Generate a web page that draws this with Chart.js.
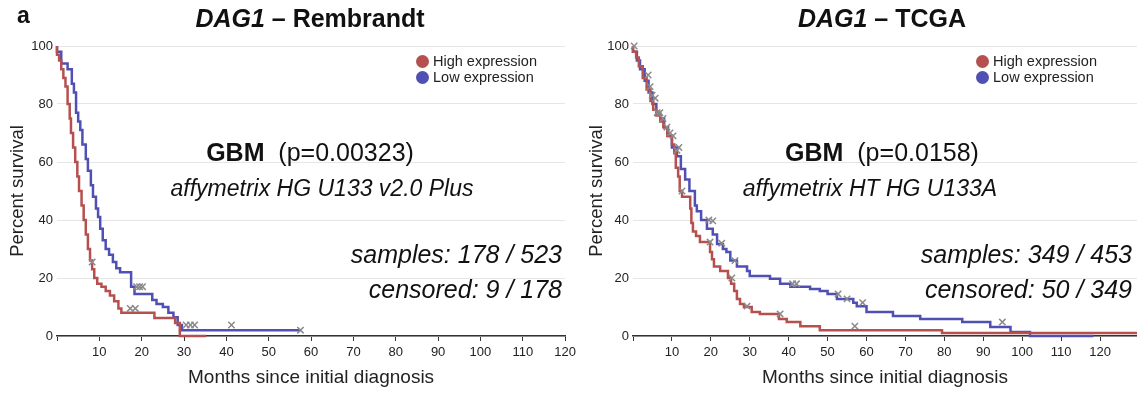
<!DOCTYPE html>
<html>
<head>
<meta charset="utf-8">
<script src="https://cdn.jsdelivr.net/npm/chart.js@4"></script>
<style>
body{margin:0;background:#fff;font-family:"Liberation Sans",Arial,sans-serif;color:#111}
#wrap{position:relative;width:1137px;height:393px;overflow:hidden}
canvas{position:absolute;top:0}
.t{position:absolute;white-space:nowrap;line-height:1}
.c{transform:translateX(-50%)}
.lg{position:absolute;font-size:14.5px;line-height:16px;color:#222}
.dot{display:inline-block;width:13px;height:13px;border-radius:50%;vertical-align:-2px;margin-right:4px}
</style>
</head>
<body>
<div id="wrap">
<canvas id="rem" width="580" height="393" style="left:0"></canvas>
<canvas id="tcga" width="567" height="393" style="left:576px"></canvas>

<div class="t" style="left:17px;top:4px;font-size:23px;font-weight:bold">a</div>
<div class="t c" style="left:310px;top:6px;font-size:25px;font-weight:bold"><i>DAG1</i> – Rembrandt</div>
<div class="t c" style="left:882px;top:6px;font-size:25px;font-weight:bold"><i>DAG1</i> – TCGA</div>

<div class="t c" style="left:310px;top:140px;font-size:25px"><b>GBM</b>&nbsp; (p=0.00323)</div>
<div class="t c" style="left:322px;top:177px;font-size:23px;font-style:italic">affymetrix HG U133 v2.0 Plus</div>
<div class="t" style="right:575px;top:242px;font-size:25px;font-style:italic">samples: 178 / 523</div>
<div class="t" style="right:575px;top:277px;font-size:25px;font-style:italic">censored: 9 / 178</div>

<div class="t c" style="left:882px;top:140px;font-size:25px"><b>GBM</b>&nbsp; (p=0.0158)</div>
<div class="t c" style="left:870px;top:177px;font-size:23px;font-style:italic">affymetrix HT HG U133A</div>
<div class="t" style="right:5px;top:242px;font-size:25px;font-style:italic">samples: 349 / 453</div>
<div class="t" style="right:5px;top:277px;font-size:25px;font-style:italic">censored: 50 / 349</div>

<div class="lg" style="left:416px;top:53px"><span class="dot" style="background:#b5504f"></span>High expression<br><span class="dot" style="background:#5050b4"></span>Low expression</div>
<div class="lg" style="left:976px;top:53px"><span class="dot" style="background:#b5504f"></span>High expression<br><span class="dot" style="background:#5050b4"></span>Low expression</div>
</div>

<script>
// ---- Rembrandt (months, percent survival) ----
const remHighT = [0, 0.5, 1.0, 1.5, 2.0, 2.5, 3.0, 3.3, 3.8, 4.3, 4.8, 5.2, 5.8, 6.3, 6.8, 7.3, 7.8, 8.3, 8.8, 9.5, 10.5, 11.5, 12.5, 13.5, 14.5, 15.2, 23.0, 27.9, 29.0, 35.2];
const remHighS = [100, 97, 95, 92, 89, 86, 80, 75, 70, 65, 60, 55, 50, 45, 40, 35, 30, 26, 23, 20, 18, 17, 15.5, 14, 12, 9.5, 8, 6.2, 4.5, 0];
const remLowT = [0, 1.0, 2.5, 3.5, 4.0, 4.5, 5.0, 5.5, 6.0, 6.8, 7.3, 8.0, 8.5, 9.2, 9.7, 10.2, 10.8, 11.5, 12.3, 13.2, 14.0, 14.9, 17.5, 18.3, 22.5, 23.5, 25.0, 26.3, 27.5, 28.5, 29.5, 42.0, 57.5];
const remLowS = [100, 98, 94, 92, 87, 84, 77, 74, 71, 66, 61, 57, 52, 48, 44, 41, 37, 33, 30, 28, 25.5, 23.4, 22, 17, 14.5, 12.4, 11, 10, 8, 6.5, 3.8, 2, 2];
const remCensHighT = [8.3, 17.3, 18.5];
const remCensHighS = [25.5, 9.5, 9.5];
const remCensLowT = [18.8, 19.5, 20.2, 30.5, 31.5, 32.5, 41.2, 57.5];
const remCensLowS = [17, 17, 17, 3.8, 3.8, 3.8, 3.8, 2];

// ---- TCGA ----
const tcgaHighT = [0, 0.8, 1.5, 2.5, 3.5, 4.5, 5.2, 6.0, 7.0, 7.8, 8.8, 10.0, 10.6, 11.0, 11.6, 12.0, 12.6, 14.7, 15.0, 15.4, 16.2, 17.2, 19.8, 20.3, 20.8, 22.4, 24.4, 25.2, 26.0, 26.7, 27.5, 28.5, 30.5, 32.6, 37.5, 39.5, 43.0, 48.0, 79.4, 92.5, 129.5];
const tcgaHighS = [100, 98, 96, 93, 89, 85, 81, 78, 76, 74, 72, 69, 66, 63, 58, 55, 50, 48, 44, 39, 36, 34.5, 32.4, 29, 26.5, 24, 22.4, 20, 18, 15.5, 12.8, 11, 10, 8.3, 7.6, 5.9, 4.8, 3.4, 2, 1, 1];
const tcgaLowT = [0, 1.0, 1.8, 3.0, 4.0, 5.0, 6.0, 7.0, 8.0, 9.0, 10.0, 11.3, 12.3, 13.4, 14.5, 15.9, 16.4, 17.5, 19.0, 20.5, 21.6, 23.1, 24.0, 25.0, 26.7, 29.3, 30.0, 35.2, 37.8, 40.4, 45.5, 48.0, 50.0, 52.4, 56.6, 57.5, 60.0, 66.8, 73.8, 84.6, 91.8, 97.0, 102.0, 118.3];
const tcgaLowS = [100, 98, 95, 92, 88, 84, 80, 77, 75, 72, 69, 65, 62, 57.6, 54, 50, 45, 43, 40, 37, 35, 31.7, 30, 29, 26, 24, 22.4, 20.7, 19.7, 18, 17, 16.2, 15.5, 14.5, 12.8, 11.5, 10.3, 8.3, 6.9, 5.9, 4.8, 3.1, 1.4, 0];
const tcgaCensHighT = [0.3, 3.9, 4.9, 6.2, 7.7, 9.5, 11.3, 12.6, 19.8, 25.4, 29.3, 37.8, 57.0];
const tcgaCensHighS = [100, 90, 83, 77, 75, 70, 64, 50, 32.4, 20, 10.3, 7.6, 3.4];
const tcgaCensLowT = [4.4, 5.7, 6.9, 8.7, 10.3, 11.8, 19.5, 20.5, 22.8, 26.2, 41.0, 42.0, 52.7, 55.0, 59.0, 94.9];
const tcgaCensLowS = [86, 82, 77, 72, 69, 65, 40, 39.7, 32, 26, 18, 18, 14.5, 12.8, 11.5, 4.8];

const RED = "#b5504f";
const BLUE = "#5050b4";

Chart.defaults.font.family = '"Liberation Sans", Arial, sans-serif';

function pts(t, s) {
    return t.map((v, i) => ({ x: v, y: s[i] }));
}

function kmChart(id, hT, hS, lT, lS, chT, chS, clT, clS, xMax, padLeft, padRight, yWidth) {
    return new Chart(document.getElementById(id).getContext("2d"), {
        type: "scatter",
        data: {
            datasets: [
                {
                    label: "censored",
                    data: pts(chT, chS).concat(pts(clT, clS)),
                    pointStyle: "crossRot",
                    pointRadius: 4.5,
                    borderColor: "#8a8a8a",
                    backgroundColor: "#8a8a8a",
                    borderWidth: 1.5,
                    clip: 8,
                },
                {
                    label: "High expression",
                    data: pts(hT, hS),
                    showLine: true,
                    stepped: "after",
                    borderColor: RED,
                    borderWidth: 2.5,
                    pointRadius: 0,
                    clip: 4,
                },
                {
                    label: "Low expression",
                    data: pts(lT, lS),
                    showLine: true,
                    stepped: "after",
                    borderColor: BLUE,
                    borderWidth: 2.5,
                    pointRadius: 0,
                    clip: 4,
                },
            ],
        },
        options: {
            responsive: false,
            animation: false,
            layout: { padding: { left: padLeft, right: padRight, top: 46, bottom: 0 } },
            plugins: { legend: { display: false }, tooltip: { enabled: false } },
            scales: {
                x: {
                    type: "linear",
                    min: 0,
                    max: xMax,
                    ticks: {
                        stepSize: 10,
                        includeBounds: false,
                        autoSkip: false,
                        maxRotation: 0,
                        padding: 4,
                        color: "#222",
                        font: { size: 13 },
                        callback: (v) => (v === 0 ? "" : v),
                    },
                    grid: { drawOnChartArea: false, drawTicks: true, tickLength: 5, color: "#333" },
                    border: { color: "#333", width: 1.5 },
                    title: {
                        display: true,
                        text: "Months since initial diagnosis",
                        color: "#222",
                        font: { size: 19 },
                        padding: { top: 0, bottom: 4 },
                    },
                    afterFit: (a) => { a.height = 57; },
                },
                y: {
                    min: 0,
                    max: 100,
                    ticks: { stepSize: 20, padding: 4, color: "#222", font: { size: 13 } },
                    grid: { color: "#e6e6e6", drawTicks: false },
                    border: { display: false },
                    title: {
                        display: true,
                        text: "Percent survival",
                        color: "#222",
                        font: { size: 18.5 },
                        padding: { top: 0, bottom: 0 },
                    },
                    afterFit: (a) => { a.width = yWidth; },
                },
            },
        },
    });
}

const chart_rem = kmChart("rem", remHighT, remHighS, remLowT, remLowS,
    remCensHighT, remCensHighS, remCensLowT, remCensLowS, 120, 7, 12, 50);
const chart_tcga = kmChart("tcga", tcgaHighT, tcgaHighS, tcgaLowT, tcgaLowS,
    tcgaCensHighT, tcgaCensHighS, tcgaCensLowT, tcgaCensLowS, 129.5, 10, 0, 47);
</script>
</body>
</html>
